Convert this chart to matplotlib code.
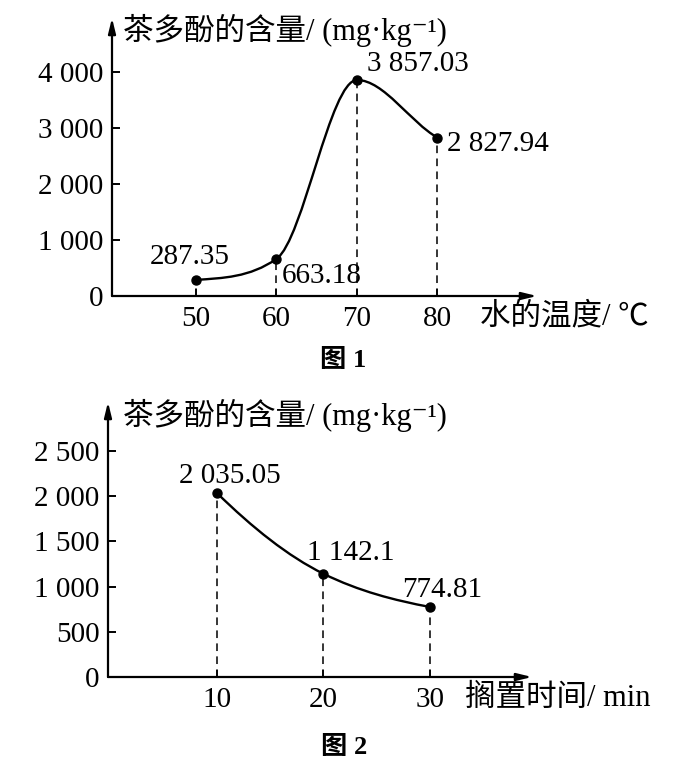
import matplotlib
matplotlib.use("Agg")
import matplotlib.pyplot as plt
from matplotlib.path import Path
from matplotlib.patches import PathPatch

plt.rcParams['font.family'] = ['Liberation Serif', 'Noto Sans CJK SC', 'DejaVu Sans']

# 图1: 水的温度 vs 茶多酚的含量
temp = [50, 60, 70, 80]
temp_tea = [287.35, 663.18, 3857.03, 2827.94]
temp_labels = ["287.35", "663.18", "3 857.03", "2 827.94"]
temp_slopes = [10, 100, 0, -80]   # tangent of the drawn curve at each point (read by eye)
temp_yticks = [0, 1000, 2000, 3000, 4000]
temp_yticklabels = ["0", "1 000", "2 000", "3 000", "4 000"]
temp_xticks = [50, 60, 70, 80]

# 图2: 搁置时间 vs 茶多酚的含量
rest = [10, 20, 30]
rest_tea = [2035.05, 1142.1, 774.81]
rest_labels = ["2 035.05", "1 142.1", "774.81"]
rest_slopes = [-115, -58, -22]
rest_yticks = [0, 500, 1000, 1500, 2000, 2500]
rest_yticklabels = ["0", "500", "1 000", "1 500", "2 000", "2 500"]
rest_xticks = [10, 20, 30]

W, H = 673, 781
FS = 21     # numbers
FS_CN = 22  # axis titles


def px_rect(left, top, right, bottom):
    # pixel box (from top-left) -> figure fraction
    return [left / W, 1 - bottom / H, (right - left) / W, (bottom - top) / H]


def smooth_path(xs, ys, slopes):
    # cubic bezier through the points, hermite style
    verts = [(xs[0], ys[0])]
    codes = [Path.MOVETO]
    for i in range(len(xs) - 1):
        h = (xs[i + 1] - xs[i]) / 3
        verts += [(xs[i] + h, ys[i] + slopes[i] * h),
                  (xs[i + 1] - h, ys[i + 1] - slopes[i + 1] * h),
                  (xs[i + 1], ys[i + 1])]
        codes += [Path.CURVE4] * 3
    return Path(verts, codes)


def setup_axes(ax, xticks, yticks, yticklabels):
    for s in ax.spines.values():
        s.set_visible(False)
    arrow = dict(arrowstyle='-|>,head_length=0.9,head_width=0.22', lw=1.6,
                 color='k', shrinkA=0, shrinkB=0, mutation_scale=10)
    ax.annotate('', xy=(1, 0), xytext=(0, 0), xycoords='axes fraction', arrowprops=arrow)
    ax.annotate('', xy=(0, 1), xytext=(0, 0), xycoords='axes fraction', arrowprops=arrow)
    ax.set_xticks(xticks)
    ax.set_xticklabels([str(t) for t in xticks])
    ax.set_yticks(yticks)
    ax.set_yticklabels(yticklabels)
    ax.tick_params(axis='y', direction='in', length=6, width=1.4, pad=6, labelsize=FS)
    ax.tick_params(axis='x', direction='in', length=5, width=1.2, pad=7, labelsize=FS)
    ax.patch.set_visible(False)


def draw_series(ax, xs, ys, slopes, labels, offsets):
    ax.vlines(xs, 0, ys, colors='k', linestyles=(0, (5, 3.5)), lw=1.1)
    ax.add_patch(PathPatch(smooth_path(xs, ys, slopes), fill=False, lw=1.7,
                           edgecolor='k', transform=ax.transData))
    ax.plot(xs, ys, 'o', color='k', ms=6.5, zorder=5)
    for x, y, lab, (dx, dy, ha) in zip(xs, ys, labels, offsets):
        ax.annotate(lab, (x, y), xytext=(dx, dy), textcoords='offset pixels',
                    ha=ha, va='baseline', fontsize=FS)


fig = plt.figure(figsize=(W / 100, H / 100), dpi=100)

# chart 1
ax1 = fig.add_axes(px_rect(112, 18, 537, 296))
ax1.set_xlim(39.57, 92.36)
ax1.set_ylim(0, 4964)
setup_axes(ax1, temp_xticks, temp_yticks, temp_yticklabels)
draw_series(ax1, temp, temp_tea, temp_slopes, temp_labels,
            [(-6, 16, 'center'), (5, -24, 'left'), (10, 9, 'left'), (10, -13, 'left')])

# chart 2
ax2 = fig.add_axes(px_rect(108, 402, 532, 677))
ax2.set_xlim(-0.23, 39.58)
ax2.set_ylim(0, 3042)
setup_axes(ax2, rest_xticks, rest_yticks, rest_yticklabels)
draw_series(ax2, rest, rest_tea, rest_slopes, rest_labels,
            [(13, 10, 'center'), (27, 14, 'center'), (12, 10, 'center')])

ylab = "茶多酚的含量/ (mg·kg⁻¹)"
fig.text(123 / W, 1 - 30 / H, ylab, ha='left', va='center', fontsize=FS_CN)
fig.text(123 / W, 1 - 415 / H, ylab, ha='left', va='center', fontsize=FS_CN)
fig.text(480 / W, 1 - 317 / H, "水的温度/ ℃", ha='left', va='center', fontsize=FS_CN)
fig.text(465 / W, 1 - 698 / H, "搁置时间/ min", ha='left', va='center', fontsize=FS_CN)
fig.text(343 / W, 1 - 360 / H, "图 1", ha='center', va='center', fontsize=19, fontweight='bold')
fig.text(344 / W, 1 - 748 / H, "图 2", ha='center', va='center', fontsize=19, fontweight='bold')

fig.savefig("out.png", dpi=100)
